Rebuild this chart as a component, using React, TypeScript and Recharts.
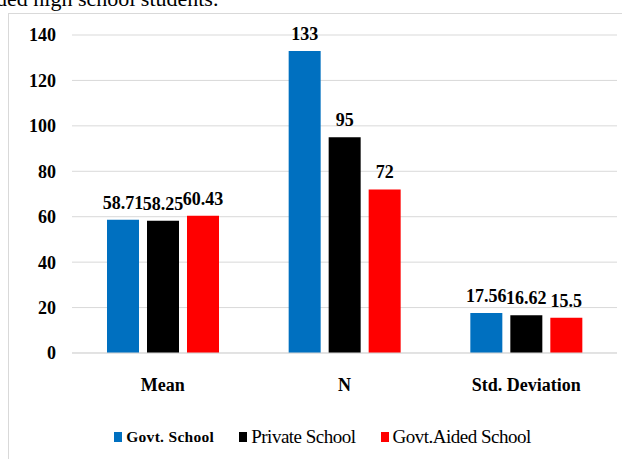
import React from "react";
import { BarChart, Bar, XAxis, YAxis, CartesianGrid, Legend, LabelList } from "recharts";

const categories = ["Mean", "N", "Std. Deviation"];
const govtSchool = [58.71, 133, 17.56];
const privateSchool = [58.25, 95, 16.62];
const govtAidedSchool = [60.43, 72, 15.5];
const yTicks = [0, 20, 40, 60, 80, 100, 120, 140];

const series = [
  { key: "govt", name: "Govt. School", color: "#0070C0", bold: true },
  { key: "private", name: "Private School", color: "#000000", bold: false },
  { key: "aided", name: "Govt.Aided School", color: "#FF0000", bold: false },
];

const data = categories.map((c, i) => ({
  name: c,
  govt: govtSchool[i],
  private: privateSchool[i],
  aided: govtAidedSchool[i],
}));

const serif = "'Liberation Serif', 'Times New Roman', serif";

const LegendBox = () => (
  <div style={{ height: 30, display: "flex", alignItems: "center", justifyContent: "center", fontFamily: serif, paddingLeft: 44 }}>
    {series.map((s) => (
      <div key={s.key} style={{ display: "flex", alignItems: "center", marginRight: 25 }}>
        <span style={{ width: 8, height: 10, background: s.color, display: "inline-block", marginRight: 4 }} />
        <span style={{ fontSize: s.bold ? 15.5 : 19, fontWeight: s.bold ? 700 : 400, color: "#000", letterSpacing: s.bold ? 0.3 : -0.5 }}>
          {s.name}
        </span>
      </div>
    ))}
  </div>
);

export default function App() {
  return (
    <div style={{ position: "absolute", left: 0, top: 0, width: 622, height: 459, overflow: "hidden", background: "#fff" }}>
      <div style={{ position: "absolute", left: -4, top: -14, fontFamily: serif, fontSize: 22, whiteSpace: "nowrap" }}>
        ded high school students.
      </div>
      <div style={{ position: "absolute", left: 8, top: 13, width: 614, height: 446, borderLeft: "1px solid #d9d9d9", borderTop: "1px solid #d9d9d9" }}>
        <BarChart width={613} height={445} data={data} barSize={32} barGap={8} margin={{ top: 21, right: 5, left: 0, bottom: 7 }}>
          <CartesianGrid vertical={false} stroke="#d9d9d9" />
          <XAxis
            dataKey="name"
            axisLine={{ stroke: "#d9d9d9" }}
            tickLine={false}
            height={69}
            tickMargin={19}
            tick={{ fontFamily: serif, fontWeight: 700, fontSize: 18, fill: "#000" }}
          />
          <YAxis
            domain={[0, 140]}
            ticks={yTicks}
            width={63}
            axisLine={false}
            tickLine={false}
            tickMargin={10}
            tick={{ fontFamily: serif, fontWeight: 700, fontSize: 18, fill: "#000" }}
          />
          <Legend verticalAlign="bottom" content={() => <LegendBox />} />
          {series.map((s) => (
            <Bar key={s.key} dataKey={s.key} name={s.name} fill={s.color} isAnimationActive={false}>
              <LabelList dataKey={s.key} position="top" offset={11} style={{ fontFamily: serif, fontWeight: 700, fontSize: 18, fill: "#000" }} />
            </Bar>
          ))}
        </BarChart>
      </div>
    </div>
  );
}
